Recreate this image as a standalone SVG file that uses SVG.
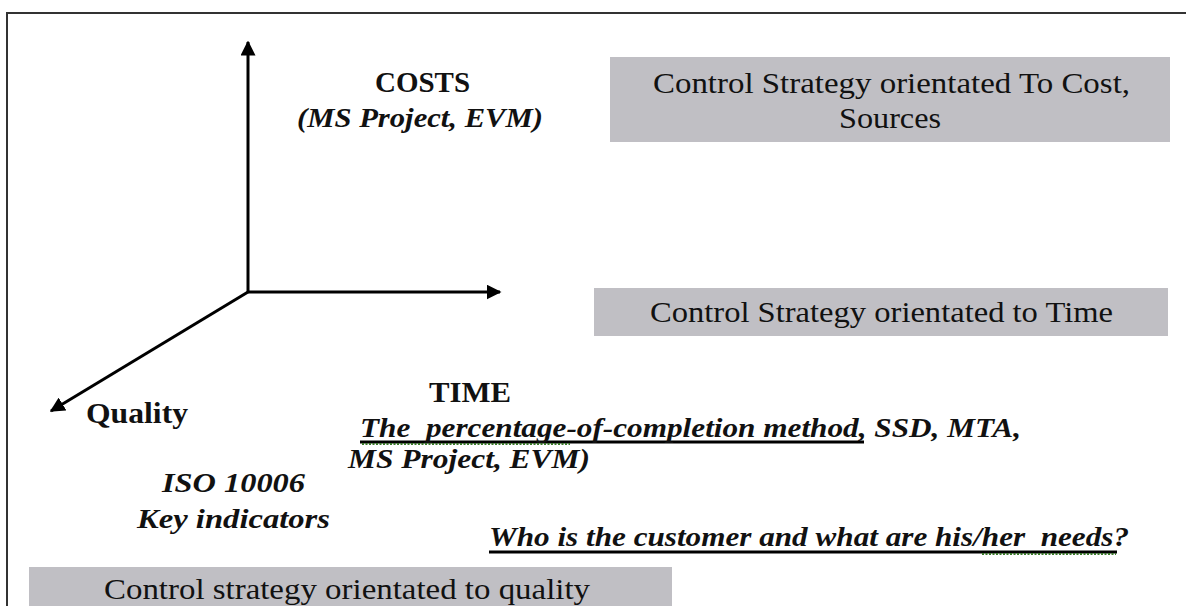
<svg xmlns="http://www.w3.org/2000/svg" width="1186" height="606" viewBox="0 0 1186 606">
  <style>
    .frame { fill: none; stroke: #333; stroke-width: 2; }
    .axis { fill: none; stroke: #000; stroke-width: 3; }
    .box { fill: #c0bfc4; }
    .t { font-family: "Liberation Serif", "Times New Roman", serif; fill: #111; }
    .reg { font-size: 30px; }
    .lbl { font-size: 29px; font-weight: bold; }
    .note { font-size: 28px; font-weight: bold; font-style: italic; }
    .uline { stroke: #000; stroke-width: 3; }
    .squiggle { stroke: #3a7a2a; stroke-width: 2; stroke-dasharray: 2 1.5; }
  </style>
  <defs>
    <marker id="head" viewBox="0 0 10 10" refX="9" refY="5" markerWidth="5" markerHeight="5" orient="auto" markerUnits="strokeWidth">
      <path d="M0,0 L10,5 L0,10 Z" fill="#000"/>
    </marker>
  </defs>

  <rect x="0" y="0" width="1186" height="606" fill="#fff"/>
  <!-- outer frame -->
  <rect class="frame" x="7" y="13" width="1190" height="620"/>

  <!-- three-axis connectors -->
  <g id="connectors">
    <line class="axis" x1="248" y1="292" x2="248" y2="42" marker-end="url(#head)"/>
    <line class="axis" x1="248" y1="292" x2="500" y2="292" marker-end="url(#head)"/>
    <line class="axis" x1="248" y1="292" x2="51" y2="411" marker-end="url(#head)"/>
  </g>

  <g id="costs-label">
    <text class="t lbl" x="375" y="92" textLength="95" lengthAdjust="spacingAndGlyphs">COSTS</text>
    <text class="t note" x="297" y="127" textLength="246" lengthAdjust="spacingAndGlyphs">(MS Project, EVM)</text>
  </g>

  <g id="cost-strategy">
    <rect class="box" x="610" y="57" width="560" height="85"/>
    <text class="t reg" x="653" y="93" textLength="477" lengthAdjust="spacingAndGlyphs">Control Strategy orientated To Cost,</text>
    <text class="t reg" x="839" y="128" textLength="102" lengthAdjust="spacingAndGlyphs">Sources</text>
  </g>

  <g id="time-strategy">
    <rect class="box" x="594" y="288" width="574" height="48"/>
    <text class="t reg" x="650" y="322" textLength="463" lengthAdjust="spacingAndGlyphs">Control Strategy orientated to Time</text>
  </g>

  <g id="quality-label">
    <text class="t lbl" x="86" y="423" textLength="102" lengthAdjust="spacingAndGlyphs">Quality</text>
  </g>

  <g id="time-label">
    <text class="t lbl" x="429" y="402" textLength="82" lengthAdjust="spacingAndGlyphs">TIME</text>
    <line class="uline" x1="360" y1="442" x2="864" y2="442"/>
    <line class="squiggle" x1="362" y1="444" x2="570" y2="444"/>
    <text class="t note" x="360" y="437" xml:space="preserve" textLength="661" lengthAdjust="spacingAndGlyphs">The  percentage-of-completion method, SSD, MTA,</text>
    <text class="t note" x="348" y="468" textLength="242" lengthAdjust="spacingAndGlyphs">MS Project, EVM)</text>
  </g>

  <g id="quality-notes">
    <text class="t note" x="162" y="492" textLength="143" lengthAdjust="spacingAndGlyphs">ISO 10006</text>
    <text class="t note" x="137" y="528" textLength="193" lengthAdjust="spacingAndGlyphs">Key indicators</text>
  </g>

  <g id="customer-question">
    <line class="uline" x1="489" y1="552" x2="1117" y2="552"/>
    <line class="squiggle" x1="982" y1="554" x2="1116" y2="554"/>
    <text class="t note" x="489" y="546" xml:space="preserve" textLength="640" lengthAdjust="spacingAndGlyphs">Who is the customer and what are his/her  needs?</text>
  </g>

  <g id="quality-strategy">
    <rect class="box" x="29" y="567" width="643" height="45"/>
    <text class="t reg" x="104" y="599" textLength="486" lengthAdjust="spacingAndGlyphs">Control strategy orientated to quality</text>
  </g>
</svg>
